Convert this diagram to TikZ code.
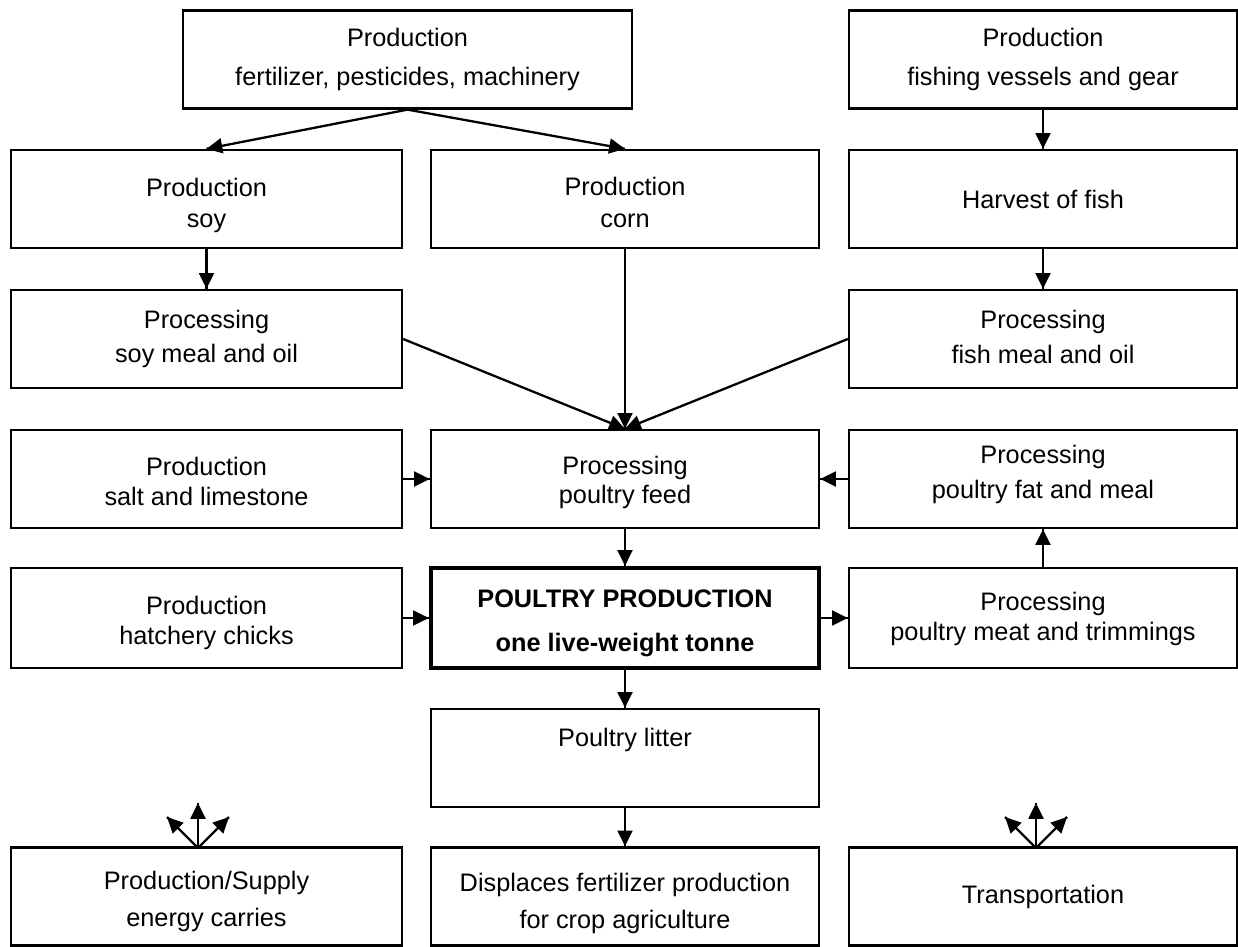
\documentclass[tikz,border=0pt]{standalone}
\usepackage{fontspec}
\setmainfont{Liberation Sans}
\usetikzlibrary{arrows,arrows.meta,decorations.markings}

\begin{document}
\begin{tikzpicture}[
  box/.style = {shape=rectangle, draw, align=center, line width=1.3pt,
    minimum width=7.76cm, minimum height=1.96cm,
    font=\fontsize{14.4}{18}\selectfont},
  fs/.style = {font=\fontsize{14.4}{#1}\selectfont},
  mainbox/.style = {box, line width=2.4pt, minimum height=2cm,
    font=\fontsize{14.4}{25}\selectfont\bfseries},
  lower/.style = {text height=#1}
  ]
  \useasboundingbox (0,0) rectangle (24.76,-18.94);

  % top row
  \node[box, fs=21.7pt, minimum width=8.98cm] (fert) at (8.15,-1.19) {Production\\fertilizer, pesticides, machinery};
  \node[box, fs=21.7pt] (vessel) at (20.86,-1.19) {Production\\fishing vessels and gear};

  % crops and fish
  \node[box, lower=35.7pt, minimum width=7.82cm] (soy) at (4.13,-3.98) {Production\\soy};
  \node[box, lower=32.7pt] (corn) at (12.5,-3.98) {Production\\corn};
  \node[box] (harvest) at (20.86,-3.98) {Harvest of fish};

  \node[box, fs=19.5pt, minimum width=7.82cm] (soymeal) at (4.13,-6.78) {Processing\\soy meal and oil};
  \node[box, fs=19.5pt, lower=27.7pt] (fishmeal) at (20.86,-6.78) {Processing\\fish meal and oil};

  % feed
  \node[box, fs=17pt, lower=30.1pt, minimum width=7.82cm] (salt) at (4.13,-9.58) {Production\\salt and limestone};
  \node[box, fs=16.4pt, lower=30.7pt] (feed) at (12.5,-9.58) {Processing\\poultry feed};
  \node[box, fs=19.8pt, lower=25.5pt] (fat) at (20.86,-9.58) {Processing\\poultry fat and meal};

  % poultry
  \node[box, fs=17.4pt, lower=33.5pt, minimum width=7.82cm, minimum height=2cm] (chicks) at (4.13,-12.36) {Production\\hatchery chicks};
  \node[mainbox, lower=41.3pt] (poultry) at (12.5,-12.36) {POULTRY PRODUCTION\\one live-weight tonne};
  \node[box, fs=17pt, lower=28.5pt, minimum height=2cm] (meat) at (20.86,-12.36) {Processing\\poultry meat and trimmings};

  \node[box, text depth=23.2pt] (litter) at (12.5,-15.16) {Poultry litter};

  % bottom row
  \node[box, fs=21pt, lower=37.1pt, minimum width=7.82cm] (energy) at (4.13,-17.93) {Production/Supply\\energy carries};
  \node[box, fs=21pt, lower=38.9pt] (displace) at (12.5,-17.93) {Displaces fertilizer production\\for crop agriculture};
  \node[box] (transport) at (20.86,-17.93) {Transportation};

  \tikzset{Edge/.style = {line width=1.3pt, decoration={markings,mark=at position 1 with
    {\arrow{Triangle[length=9pt,width=8.5pt]}}},postaction={decorate}}}

  \draw[Edge] (fert.south) -- (soy.north);
  \draw[Edge] (fert.south) -- (corn.north);
  \draw[Edge] (vessel) -- (harvest);
  \draw[Edge] (harvest) -- (fishmeal);
  \draw[Edge] (soy.south) -- (soymeal.north -| soy.south);
  \draw[Edge] (soymeal.east) -- (feed.north);
  \draw[Edge] (corn.south) -- (feed.north);
  \draw[Edge] (fishmeal.west) -- (feed.north);
  \draw[Edge] (salt) -- (feed);
  \draw[Edge] (fat.west) -- (feed.east);
  \draw[Edge] (meat) -- (fat);
  \draw[Edge] (feed) -- (poultry);
  \draw[Edge] (chicks) -- (poultry);
  \draw[Edge] (poultry) -- (meat);
  \draw[Edge] (poultry) -- (litter);
  \draw[Edge] (litter) -- (displace);

  % outgoing flows
  \coordinate (enbase) at (3.96,-16.96);
  \coordinate (enup) at (3.96,-16.06);
  \coordinate (enleft) at (3.34,-16.34);
  \coordinate (enright) at (4.58,-16.34);
  \draw[Edge] (enbase) -- (enup);
  \draw[Edge] (enbase) -- (enleft);
  \draw[Edge] (enbase) -- (enright);

  \coordinate (trbase) at (20.72,-16.96);
  \coordinate (trup) at (20.72,-16.06);
  \coordinate (trleft) at (20.10,-16.34);
  \coordinate (trright) at (21.34,-16.34);
  \draw[Edge] (trbase) -- (trup);
  \draw[Edge] (trbase) -- (trleft);
  \draw[Edge] (trbase) -- (trright);

\end{tikzpicture}
\end{document}
